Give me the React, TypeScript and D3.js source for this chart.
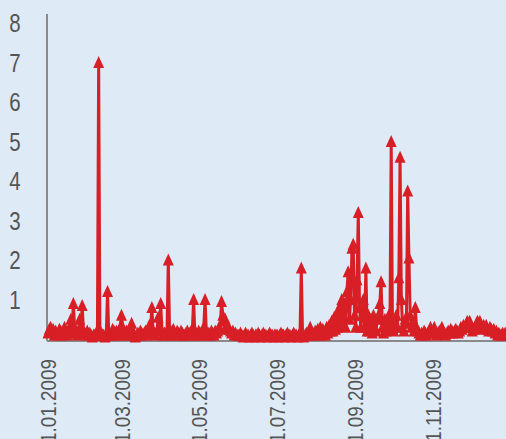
import * as d3 from "d3";
import { useEffect } from "react";

// daily values for 2009, one array per month
const jan = [0.15, 0.25, 0.3, 0.2, 0.25, 0.1, 0.2, 0.15, 0.1, 0.25, 0.2, 0.1, 0.15, 0.3, 0.2, 0.1, 0.15, 0.3, 0.5, 0.2, 0.9, 0.3, 0.15, 0.1, 0.2, 0.5, 0.3, 0.85, 0.2, 0.15, 0.1];
const feb = [0.2, 0.1, 0.15, 0.1, 0.05, 0.1, 0.1, 0.15, 0.1, 7.0, 0.1, 0.15, 0.1, 0.1, 0.05, 0.1, 1.2, 0.1, 0.1, 0.15, 0.25, 0.2, 0.1, 0.2, 0.15, 0.1, 0.3, 0.6];
const mar = [0.3, 0.15, 0.1, 0.2, 0.15, 0.1, 0.2, 0.4, 0.2, 0.1, 0.05, 0.1, 0.15, 0.1, 0.2, 0.15, 0.1, 0.15, 0.2, 0.1, 0.2, 0.35, 0.3, 0.8, 0.2, 0.15, 0.1, 0.2, 0.55, 0.3, 0.9];
const apr = [0.2, 0.1, 0.15, 0.1, 0.2, 2.0, 0.15, 0.1, 0.2, 0.25, 0.15, 0.1, 0.2, 0.15, 0.1, 0.2, 0.15, 0.1, 0.1, 0.15, 0.2, 0.1, 0.15, 0.2, 0.25, 1.0, 0.1, 0.15, 0.1, 0.2];
const may = [0.15, 0.1, 0.2, 0.3, 1.0, 0.2, 0.1, 0.15, 0.1, 0.2, 0.15, 0.1, 0.2, 0.15, 0.2, 0.3, 0.25, 0.95, 0.6, 0.45, 0.5, 0.35, 0.3, 0.25, 0.2, 0.15, 0.2, 0.1, 0.15, 0.1, 0.1];
const jun = [0.1, 0.15, 0.1, 0.05, 0.1, 0.15, 0.1, 0.1, 0.05, 0.1, 0.15, 0.1, 0.05, 0.1, 0.1, 0.15, 0.1, 0.05, 0.1, 0.15, 0.1, 0.1, 0.05, 0.1, 0.15, 0.1, 0.1, 0.05, 0.1, 0.1];
const jul = [0.1, 0.05, 0.1, 0.15, 0.1, 0.1, 0.05, 0.1, 0.15, 0.1, 0.1, 0.05, 0.1, 0.15, 0.1, 0.1, 0.05, 0.1, 0.15, 1.8, 0.1, 0.05, 0.1, 0.15, 0.1, 0.1, 0.3, 0.1, 0.15, 0.1, 0.2];
const aug = [0.15, 0.25, 0.1, 0.3, 0.1, 0.25, 0.15, 0.1, 0.3, 0.15, 0.35, 0.2, 0.45, 0.2, 0.55, 0.25, 0.6, 0.3, 0.8, 0.35, 1.0, 0.4, 0.9, 0.3, 1.2, 1.7, 0.5, 1.0, 2.3, 2.4, 0.6];
const sep = [0.3, 1.5, 3.2, 0.8, 0.3, 0.6, 1.0, 0.3, 1.8, 0.2, 0.6, 0.2, 0.5, 0.15, 0.6, 0.3, 0.2, 0.5, 0.6, 0.9, 1.45, 0.3, 0.15, 0.5, 0.2, 0.4, 0.6, 0.3, 5.0, 0.3];
const oct = [0.2, 0.4, 0.6, 0.3, 1.55, 4.6, 1.0, 0.3, 0.2, 0.5, 0.4, 3.75, 2.05, 0.6, 0.3, 0.4, 0.2, 0.8, 0.3, 0.2, 0.15, 0.1, 0.15, 0.1, 0.2, 0.15, 0.1, 0.15, 0.2, 0.3, 0.2];
const nov = [0.15, 0.3, 0.2, 0.1, 0.15, 0.2, 0.15, 0.3, 0.2, 0.15, 0.1, 0.15, 0.2, 0.15, 0.25, 0.2, 0.15, 0.2, 0.25, 0.2, 0.15, 0.2, 0.3, 0.25, 0.35, 0.3, 0.35, 0.45, 0.4, 0.45];
const dec = [0.3, 0.2, 0.25, 0.3, 0.35, 0.45, 0.4, 0.45, 0.3, 0.25, 0.35, 0.3, 0.35, 0.25, 0.2, 0.3, 0.25, 0.2, 0.25, 0.15, 0.2, 0.1, 0.15, 0.1, 0.1, 0.15, 0.1, 0.15, 0.1, 0.1, 0.1];

const yTicks = [1, 2, 3, 4, 5, 6, 7, 8];
const xTickLabels = ["01.01.2009", "01.03.2009", "01.05.2009", "01.07.2009", "01.09.2009", "01.11.2009"];

const values = [...jan, ...feb, ...mar, ...apr, ...may, ...jun, ...jul, ...aug, ...sep, ...oct, ...nov, ...dec];
const data = values.map((v, i) => ({ date: new Date(2009, 0, 1 + i), value: v }));

const parse = d3.timeParse("%d.%m.%Y");
const FONT = "'Liberation Sans', Arial, sans-serif";

export default function App() {
  useEffect(() => {
    document.body.style.margin = "0";
  }, []);

  const width = 506;
  const height = 439;

  const x = d3
    .scaleTime()
    .domain([new Date(2009, 0, 1), new Date(2009, 10, 1)])
    .range([48, 433]);
  const y = d3.scaleLinear().domain([0, 8]).range([339, 23]);

  const line = d3
    .line<{ date: Date; value: number }>()
    .x((d) => x(d.date))
    .y((d) => y(d.value));

  const tri = "M0,-6.5L5.5,5.5L-5.5,5.5Z";
  const red = "#d81f26";

  return (
    <svg width={width} height={height} style={{ display: "block", background: "#deebf7" }}>
      <line x1={47} x2={47} y1={14} y2={341} stroke="#8a8a8a" strokeWidth={2} />
      <line x1={47} x2={width} y1={341} y2={341} stroke="#8a8a8a" strokeWidth={2} />
      {yTicks.map((t) => (
        <text
          key={t}
          transform={`translate(15,${y(t)}) scale(0.82,1)`}
          dy="0.36em"
          textAnchor="middle"
          fontFamily={FONT}
          fontSize={25}
          fill="#555"
        >
          {t}
        </text>
      ))}
      {xTickLabels.map((lbl) => {
        const px = x(parse(lbl)!);
        return (
          <text
            key={lbl}
            transform={`translate(${px + 7.5},359) rotate(-90) scale(0.86,1)`}
            textAnchor="end"
            fontFamily={FONT}
            fontSize={22}
            fill="#555"
          >
            {lbl}
          </text>
        );
      })}
      <path d={line(data) ?? ""} fill="none" stroke={red} strokeWidth={3} strokeLinejoin="round" />
      {data.map((d, i) => (
        <path key={i} d={tri} transform={`translate(${x(d.date)},${y(d.value)})`} fill={red} />
      ))}
    </svg>
  );
}
